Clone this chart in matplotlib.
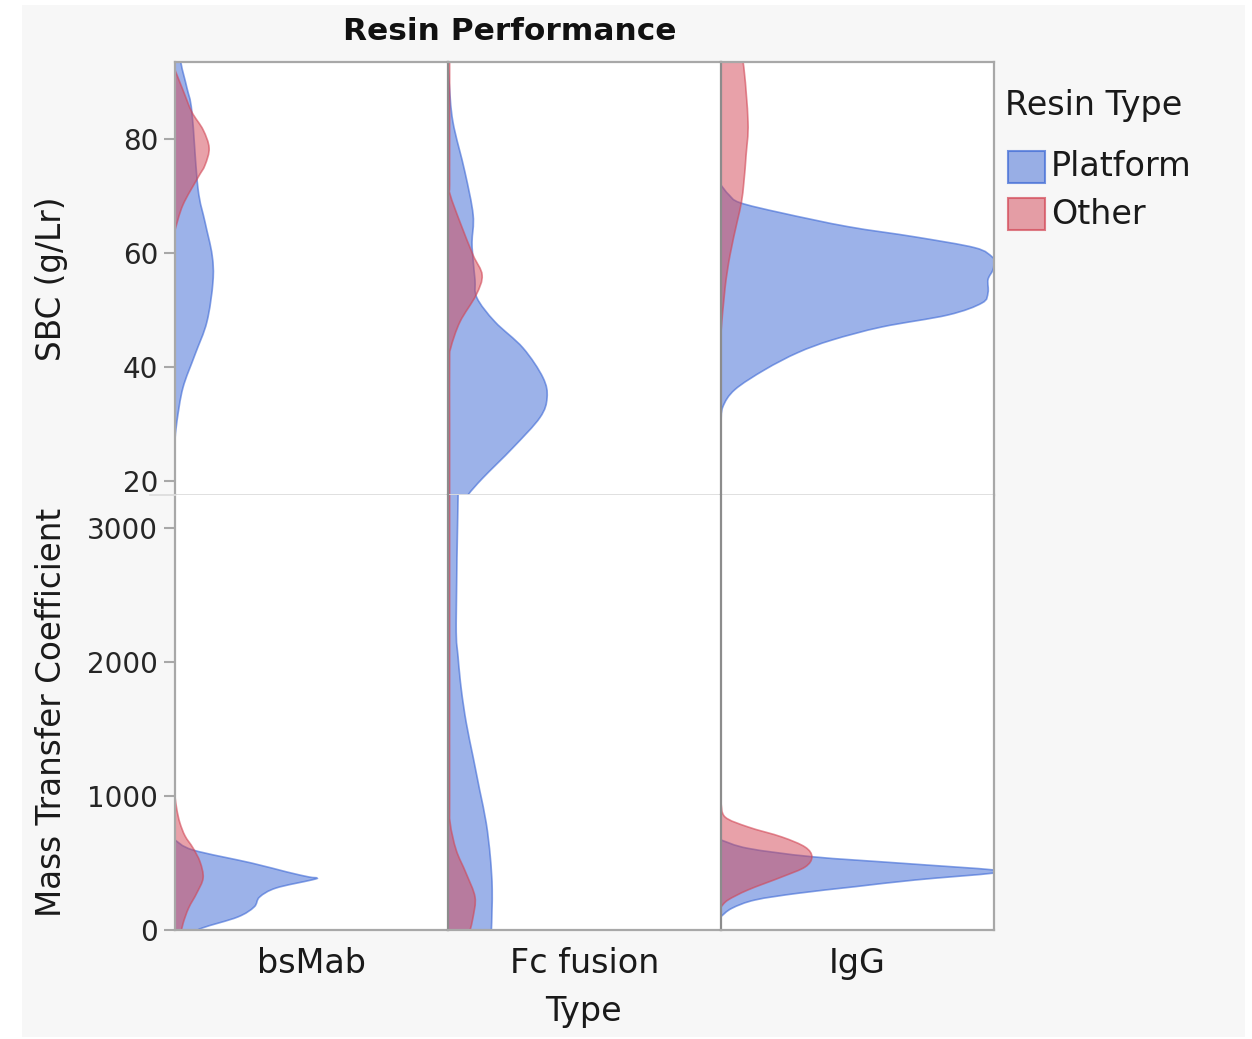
import numpy as np
import matplotlib.pyplot as plt
from matplotlib.patches import Rectangle, PathPatch
from matplotlib.path import Path
from matplotlib.lines import Line2D
from matplotlib.colors import to_rgba

plt.rcParams['font.family'] = ['DejaVu Sans']

types = ["bsMab", "Fc fusion", "IgG"]
resin_types = ["Platform", "Other"]
colors = {"Platform": "#3b67d5", "Other": "#d24554"}

row_labels = ["SBC (g/Lr)", "Mass Transfer Coefficient"]
sbc_ticks = [20, 40, 60, 80]
mtc_ticks = [0, 1000, 2000, 3000]
sbc_lim = (17.5, 93.5)
mtc_lim = (0, 3246)

# density outlines: response value and relative width (1 = full cell width)
sbc_bsmab_plat_v = [97, 93.3, 88.9, 84.7, 71.4, 65.4, 59.6, 54.9, 47.9, 42.1, 36.3, 30.4, 27.2]
sbc_bsmab_plat_w = [0.015, 0.022, 0.044, 0.062, 0.084, 0.11, 0.136, 0.139, 0.117, 0.073, 0.029, 0.007, 0]
sbc_bsmab_other_v = [92.1, 88.6, 84.7, 81.6, 78.4, 75.4, 73.2, 68.4, 64.0]
sbc_bsmab_other_w = [0, 0.029, 0.062, 0.103, 0.125, 0.11, 0.084, 0.029, 0]

sbc_fc_plat_v = [93.5, 90, 83, 74.2, 66.7, 61.9, 58.8, 55.3, 52.1, 47.9, 43.3, 38.1, 34.6, 31.1, 25.8, 20.5, 17.5, 15]
sbc_fc_plat_w = [0, 0.004, 0.018, 0.062, 0.092, 0.088, 0.092, 0.099, 0.106, 0.172, 0.275, 0.348, 0.363, 0.337, 0.238, 0.128, 0.073, 0.04]
sbc_fc_other_v = [95, 80, 72, 70.2, 65.4, 59.6, 56.1, 52.6, 47.9, 43.3, 40.9, 30, 15]
sbc_fc_other_w = [0.006, 0.006, 0.006, 0.008, 0.044, 0.092, 0.125, 0.103, 0.044, 0.01, 0.006, 0.006, 0.006]

sbc_igg_plat_v = [71.9, 70.2, 68.8, 67.0, 64.6, 62.8, 60.9, 59.3, 58.4, 57.0, 55.3, 53.0, 51.2, 49.1, 47.0, 44.7, 42.5, 39.5, 36.0, 33.0, 30.2]
sbc_igg_plat_w = [0, 0.029, 0.07, 0.223, 0.465, 0.711, 0.93, 0.993, 1.0, 0.996, 0.978, 0.978, 0.956, 0.832, 0.59, 0.407, 0.282, 0.161, 0.051, 0.007, 0]
sbc_igg_other_v = [97.4, 93.5, 83.0, 77.2, 72.5, 68.9, 65.4, 59.6, 53.9, 46.1]
sbc_igg_other_w = [0.055, 0.081, 0.099, 0.092, 0.084, 0.075, 0.059, 0.033, 0.015, 0]

mtc_bsmab_plat_v = [672, 597, 500, 433, 396, 388, 373, 313, 246, 172, 97, 15, -37]
mtc_bsmab_plat_w = [0, 0.066, 0.28, 0.41, 0.49, 0.52, 0.50, 0.37, 0.31, 0.29, 0.23, 0.10, 0.05]
mtc_bsmab_other_v = [993, 896, 799, 701, 612, 507, 388, 276, 164, 52, -37]
mtc_bsmab_other_w = [0, 0.007, 0.018, 0.037, 0.066, 0.092, 0.103, 0.08, 0.05, 0.03, 0.02]

mtc_fc_plat_v = [3300, 3231, 2291, 2037, 1791, 1545, 1291, 1045, 799, 545, 299, 0, -50]
mtc_fc_plat_w = [0.037, 0.037, 0.03, 0.037, 0.049, 0.067, 0.092, 0.116, 0.14, 0.155, 0.162, 0.159, 0.155]
mtc_fc_other_v = [3300, 2000, 1000, 799, 597, 425, 246, 97, 0, -50]
mtc_fc_other_w = [0.006, 0.006, 0.006, 0.008, 0.03, 0.066, 0.099, 0.092, 0.081, 0.075]

mtc_igg_plat_v = [672, 609, 547, 498, 448, 425, 373, 323, 274, 224, 162, 100]
mtc_igg_plat_w = [0, 0.1, 0.333, 0.663, 1.0, 1.0, 0.711, 0.491, 0.282, 0.125, 0.04, 0]
mtc_igg_other_v = [948, 843, 769, 694, 619, 545, 470, 396, 299, 224, 172]
mtc_igg_other_w = [0, 0.015, 0.099, 0.223, 0.308, 0.333, 0.308, 0.223, 0.099, 0.026, 0]

profiles = {
    (0, "bsMab", "Platform"): (sbc_bsmab_plat_v, sbc_bsmab_plat_w),
    (0, "bsMab", "Other"): (sbc_bsmab_other_v, sbc_bsmab_other_w),
    (0, "Fc fusion", "Platform"): (sbc_fc_plat_v, sbc_fc_plat_w),
    (0, "Fc fusion", "Other"): (sbc_fc_other_v, sbc_fc_other_w),
    (0, "IgG", "Platform"): (sbc_igg_plat_v, sbc_igg_plat_w),
    (0, "IgG", "Other"): (sbc_igg_other_v, sbc_igg_other_w),
    (1, "bsMab", "Platform"): (mtc_bsmab_plat_v, mtc_bsmab_plat_w),
    (1, "bsMab", "Other"): (mtc_bsmab_other_v, mtc_bsmab_other_w),
    (1, "Fc fusion", "Platform"): (mtc_fc_plat_v, mtc_fc_plat_w),
    (1, "Fc fusion", "Other"): (mtc_fc_other_v, mtc_fc_other_w),
    (1, "IgG", "Platform"): (mtc_igg_plat_v, mtc_igg_plat_w),
    (1, "IgG", "Other"): (mtc_igg_other_v, mtc_igg_other_w),
}


def density_patch(v, w, col):
    # smooth outline through the points (Catmull-Rom as cubic Beziers), closed along x = 0
    pts = np.column_stack([w, v]).astype(float)
    ext = np.vstack([pts[0], pts, pts[-1]])
    verts = [(0, v[0]), tuple(pts[0])]
    codes = [Path.MOVETO, Path.LINETO]
    for i in range(len(pts) - 1):
        p0, p1, p2, p3 = ext[i], ext[i + 1], ext[i + 2], ext[i + 3]
        verts += [tuple(p1 + (p2 - p0) / 6), tuple(p2 - (p3 - p1) / 6), tuple(p2)]
        codes += [Path.CURVE4] * 3
    verts += [(0, v[-1]), (0, v[0])]
    codes += [Path.LINETO, Path.CLOSEPOLY]
    return PathPatch(Path(verts, codes), facecolor=to_rgba(col, 0.5),
                     edgecolor=to_rgba(col, 0.6), linewidth=1.2)


W, H = 1252, 1039
fig = plt.figure(figsize=(W / 100, H / 100), dpi=100)
fig.patch.set_facecolor("white")
fig.patches.append(Rectangle((22 / W, 2 / H), 1223 / W, 1032 / H, transform=fig.transFigure,
                             facecolor="#f7f7f7", edgecolor="none", zorder=-10))

col_x = [175, 448, 721]
col_w = 273
row_y = [62, 495]
row_h = [433, 435]
lims = [sbc_lim, mtc_lim]
ticks = [sbc_ticks, mtc_ticks]

for r in range(2):
    for c in range(3):
        ax = fig.add_axes([col_x[c] / W, 1 - (row_y[r] + row_h[r]) / H, col_w / W, row_h[r] / H])
        ax.set_facecolor("white")
        ax.set_xlim(0, 1)
        ax.set_ylim(*lims[r])
        for resin in resin_types:
            v, w = profiles[(r, types[c], resin)]
            ax.add_patch(density_patch(v, w, colors[resin]))

        for s in ax.spines.values():
            s.set_color("#a8a8a8")
            s.set_linewidth(1.6)
        if c > 0:
            ax.spines["left"].set_color("#8c8c8c")
        if c < 2:
            ax.spines["right"].set_visible(False)
        if r == 0:
            ax.spines["bottom"].set_color("#dddddd")
            ax.spines["bottom"].set_linewidth(1.3)
        else:
            ax.spines["top"].set_visible(False)

        if c == 0:
            ax.set_yticks(ticks[r])
            ax.tick_params(axis="y", length=8, width=1.5, color="#a8a8a8",
                           labelsize=20, pad=4, labelcolor="#262626")
        else:
            ax.set_yticks([])
        if r == 1:
            ax.set_xticks([0.5])
            ax.set_xticklabels([types[c]])
            ax.tick_params(axis="x", length=0, labelsize=24, pad=12, labelcolor="#1a1a1a")
        else:
            ax.set_xticks([])

# separator between the two response rows
fig.add_artist(Line2D([150 / W, 175 / W], [1 - 495 / H, 1 - 495 / H], color="#dddddd", linewidth=1.3))

fig.text(510 / W, 1 - 31 / H, "Resin Performance", fontsize=22.5, fontweight="bold",
         ha="center", va="center", color="#111111")
fig.text(583 / W, 1 - 1011 / H, "Type", fontsize=24, ha="center", va="center", color="#1a1a1a")
for r in range(2):
    yc = row_y[r] + row_h[r] / 2
    fig.text(52 / W, 1 - yc / H, row_labels[r], fontsize=23.5, rotation=90,
             ha="center", va="center", color="#1a1a1a")

# legend
fig.text(1005 / W, 1 - 106 / H, "Resin Type", fontsize=24, ha="left", va="center", color="#1a1a1a")
legend_y = [167, 214]
for resin, yc in zip(resin_types, legend_y):
    col = colors[resin]
    fig.patches.append(Rectangle((1008 / W, 1 - (yc + 16) / H), 37 / W, 32 / H, transform=fig.transFigure,
                                 facecolor=to_rgba(col, 0.5), edgecolor=to_rgba(col, 0.7), linewidth=1.5))
    fig.text(1051 / W, 1 - yc / H, resin, fontsize=24, ha="left", va="center", color="#1a1a1a")

fig.savefig("out.png", dpi=100, facecolor=fig.get_facecolor())
